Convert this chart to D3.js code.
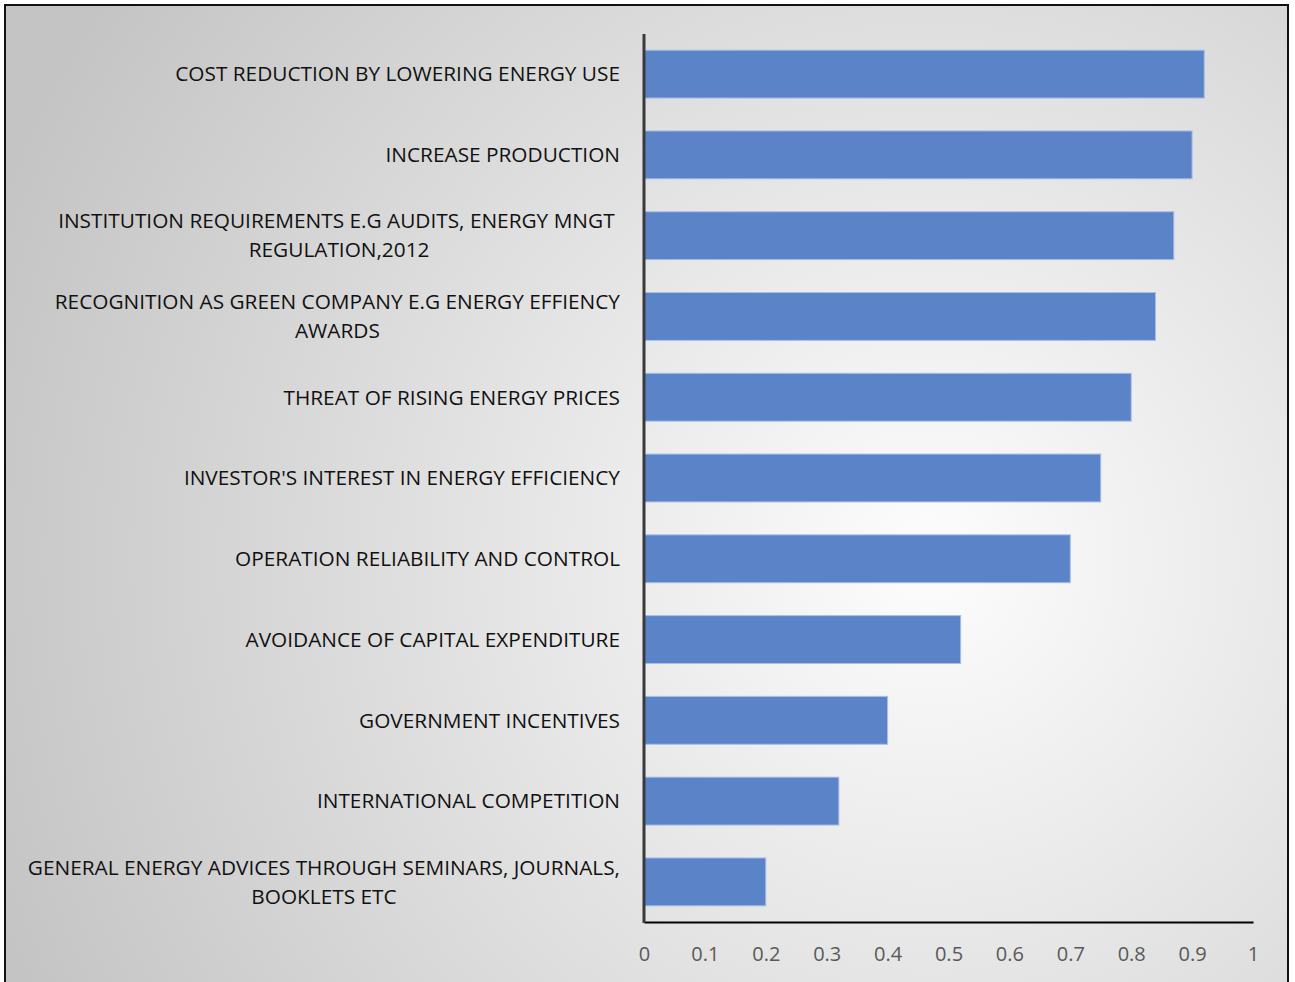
<!DOCTYPE html>
<html>
<head>
<meta charset="utf-8">
<script src="https://cdn.jsdelivr.net/npm/d3@7"></script>
<style>
  body { margin: 0; background: #fff; }
  svg { display: block; }
</style>
</head>
<body>
<svg id="chart" width="1295" height="982"></svg>
<script>
// categories top to bottom, lines split with '|'
var categories = [
  'COST REDUCTION BY LOWERING ENERGY USE',
  'INCREASE PRODUCTION',
  'INSTITUTION REQUIREMENTS E.G AUDITS, ENERGY MNGT |REGULATION,2012',
  'RECOGNITION AS GREEN COMPANY E.G ENERGY EFFIENCY|AWARDS',
  'THREAT OF RISING ENERGY PRICES',
  "INVESTOR'S INTEREST IN ENERGY EFFICIENCY",
  'OPERATION RELIABILITY AND CONTROL',
  'AVOIDANCE OF CAPITAL EXPENDITURE',
  'GOVERNMENT INCENTIVES',
  'INTERNATIONAL COMPETITION',
  'GENERAL ENERGY ADVICES THROUGH SEMINARS, JOURNALS,|BOOKLETS ETC'
];
var values = [0.92, 0.90, 0.87, 0.84, 0.80, 0.75, 0.70, 0.52, 0.40, 0.32, 0.20];
var xTicks = [0, 0.1, 0.2, 0.3, 0.4, 0.5, 0.6, 0.7, 0.8, 0.9, 1];

var svg = d3.select('#chart');
var font = 'Open Sans, Liberation Sans, sans-serif';

// background gradient
var defs = svg.append('defs');
var grad = defs.append('radialGradient').attr('id', 'bg')
  .attr('gradientUnits', 'userSpaceOnUse')
  .attr('cx', 930).attr('cy', 560).attr('r', 1000);
grad.append('stop').attr('offset', '0').attr('stop-color', '#fdfdfd');
grad.append('stop').attr('offset', '1').attr('stop-color', '#c4c4c4');

svg.append('rect').attr('x', 5).attr('y', 5).attr('width', 1283).attr('height', 990)
  .attr('fill', 'url(#bg)').attr('stroke', '#111').attr('stroke-width', 2);

var plotL = 644, plotR = 1253, plotT = 34, plotB = 922;

var x = d3.scaleLinear().domain([0, 1]).range([plotL, plotR]);
var y = d3.scaleBand().domain(d3.range(categories.length))
  .range([plotT, plotB]).paddingInner(0.407).paddingOuter(0.2);

svg.append('g').selectAll('rect').data(values).enter()
  .append('rect')
  .attr('x', x(0))
  .attr('y', function(d, i){ return y(i); })
  .attr('width', function(d){ return x(d) - x(0); })
  .attr('height', y.bandwidth())
  .attr('fill', '#5b84c8')
  .attr('stroke', '#a9c0e6')
  .attr('stroke-width', 1);

// x axis
var xAxis = svg.append('g').attr('transform', 'translate(0,' + plotB + ')')
  .call(d3.axisBottom(x).tickValues(xTicks).tickSize(0).tickPadding(25)
    .tickFormat(function(d){ return String(+d.toFixed(1)); }));
xAxis.select('.domain').attr('stroke', '#000').attr('stroke-width', 2);
xAxis.selectAll('text').attr('font-family', font).attr('font-size', 20)
  .attr('fill', '#595959').attr('dy', '0.71em');

// y axis line
svg.append('line').attr('x1', plotL).attr('x2', plotL).attr('y1', plotT).attr('y2', plotB + 1)
  .attr('stroke', '#3a3a3a').attr('stroke-width', 3);

// category labels
var labelRight = 620, lineH = 29;
var labels = svg.append('g').selectAll('g').data(categories).enter().append('g');
labels.each(function(c, i){
  var g = d3.select(this);
  var lines = c.split('|');
  var cy = y(i) + y.bandwidth() / 2;
  var texts = lines.map(function(l, j){
    return g.append('text').text(l)
      .attr('style', 'white-space:pre')
      .attr('font-family', font).attr('font-size', 20.8).attr('fill', '#111')
      .attr('y', cy + (j - (lines.length - 1) / 2) * lineH)
      .attr('dy', '0.35em');
  });
  if (lines.length === 1) {
    texts[0].attr('x', labelRight).attr('text-anchor', 'end');
  } else {
    var wMax = d3.max(texts, function(t){ return t.node().getComputedTextLength(); });
    texts.forEach(function(t){
      t.attr('x', labelRight - wMax / 2).attr('text-anchor', 'middle');
    });
  }
});
</script>
</body>
</html>
